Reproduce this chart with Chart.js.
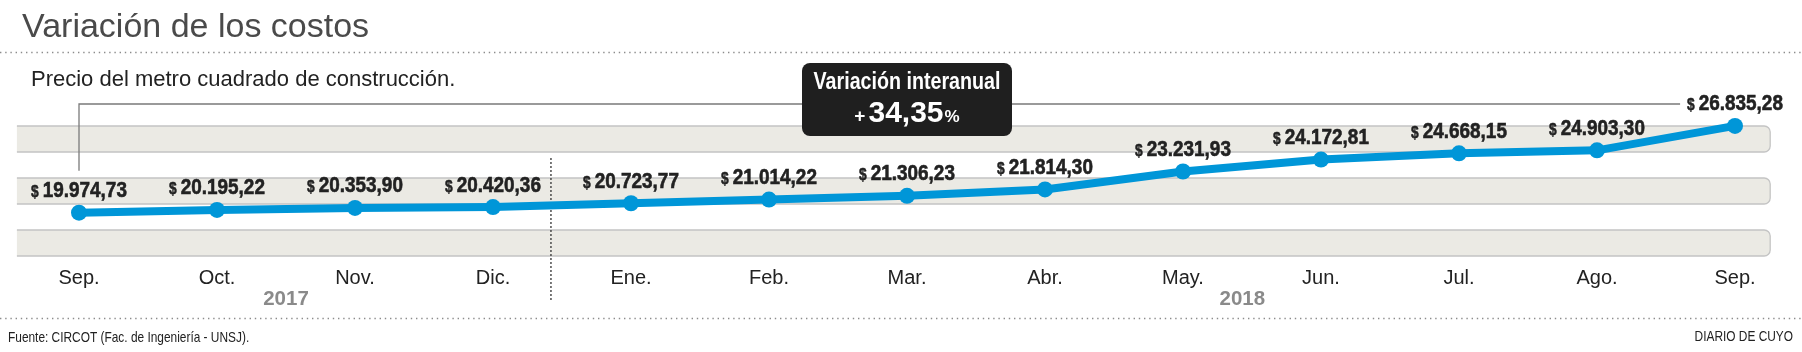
<!DOCTYPE html>
<html>
<head>
<meta charset="utf-8">
<script src="https://cdn.jsdelivr.net/npm/chart.js"></script>
<style>
  html, body { margin: 0; padding: 0; background: #fff; overflow: hidden; }
</style>
</head>
<body>
<canvas id="chart" width="1802" height="352"></canvas>
<script>
// data
const months = ['Sep.', 'Oct.', 'Nov.', 'Dic.', 'Ene.', 'Feb.', 'Mar.', 'Abr.', 'May.', 'Jun.', 'Jul.', 'Ago.', 'Sep.'];
const costs = [19974.73, 20195.22, 20353.90, 20420.36, 20723.77, 21014.22, 21306.23, 21814.30, 23231.93, 24172.81, 24668.15, 24903.30, 26835.28];
const years = ['2017', '2018'];

const BLUE = '#0096d8';
const SANS = '"Liberation Sans", Arial, sans-serif';

// 19974.73 -> "19.974,73"
const fmt = v => {
  const [int, dec] = v.toFixed(2).split('.');
  return int.replace(/\B(?=(\d{3})+(?!\d))/g, '.') + ',' + dec;
};

// no condensed font installed: squeeze the text horizontally
function narrowWidth(ctx, font, text, sx) {
  ctx.font = font;
  return ctx.measureText(text).width * sx;
}
function narrowText(ctx, font, text, x, y, sx, heavy) {
  ctx.save();
  ctx.font = font;
  ctx.textAlign = 'left';
  ctx.translate(x, y);
  ctx.scale(sx, 1);
  ctx.fillText(text, 0, 0);
  if (heavy) {
    ctx.strokeStyle = ctx.fillStyle;
    ctx.lineWidth = heavy;
    ctx.strokeText(text, 0, 0);
  }
  ctx.restore();
}

function dotted(ctx, y, w) {
  ctx.save();
  ctx.strokeStyle = '#8c8c8c';
  ctx.lineWidth = 1.4;
  ctx.setLineDash([1.4, 3.8]);
  ctx.beginPath();
  ctx.moveTo(0, y);
  ctx.lineTo(w, y);
  ctx.stroke();
  ctx.restore();
}

const F_DOLLAR = 'bold 16px ' + SANS;
const F_VALUE = 'bold 22px ' + SANS;
const SQ = 0.86;

// "$" small + number big, centred on cx; returns left edge
function valueLabel(ctx, v, cx, base, draw) {
  const wS = narrowWidth(ctx, F_DOLLAR, '$', SQ);
  const wN = narrowWidth(ctx, F_VALUE, fmt(v), SQ);
  const x0 = cx - (wS + 4 + wN) / 2;
  if (draw) {
    ctx.fillStyle = '#222';
    ctx.textBaseline = 'alphabetic';
    narrowText(ctx, F_DOLLAR, '$', x0, base, SQ, 0.5);
    narrowText(ctx, F_VALUE, fmt(v), x0 + wS + 4, base, SQ, 0.6);
  }
  return x0;
}

const decor = {
  id: 'decor',
  beforeDatasetsDraw(chart) {
    const { ctx, chartArea: a, scales: { x } } = chart;
    const W = chart.width;
    const last = months.length - 1;
    const step = x.getPixelForValue(1) - x.getPixelForValue(0);
    const pts = chart.getDatasetMeta(0).data;

    ctx.save();
    // title, subtitle, footer
    ctx.textBaseline = 'alphabetic';
    ctx.textAlign = 'left';
    ctx.fillStyle = '#4a4a4a';
    ctx.font = '34px ' + SANS;
    ctx.fillText('Variación de los costos', 22, 36.5);
    ctx.fillStyle = '#222';
    ctx.font = '22px ' + SANS;
    ctx.fillText('Precio del metro cuadrado de construcción.', 31, 86);
    dotted(ctx, 52.5, W);
    dotted(ctx, 318.5, W);
    const fFoot = '14.5px ' + SANS;
    narrowText(ctx, fFoot, 'Fuente: CIRCOT (Fac. de Ingeniería - UNSJ).', 8, 341.5, 0.82);
    const wD = narrowWidth(ctx, fFoot, 'DIARIO DE CUYO', 0.82);
    narrowText(ctx, fFoot, 'DIARIO DE CUYO', 1793 - wD, 341, 0.82);

    // bands
    const left = x.getPixelForValue(0) - 0.45 * step;
    const right = x.getPixelForValue(last) + 0.255 * step;
    const rowH = (a.bottom - a.top) / 5;
    const r = 6;
    for (let i = 0; i < 5; i += 2) {
      const top = a.top + i * rowH, bot = top + rowH;
      ctx.beginPath();
      ctx.moveTo(left, top);
      ctx.lineTo(right - r, top);
      ctx.arcTo(right, top, right, top + r, r);
      ctx.lineTo(right, bot - r);
      ctx.arcTo(right, bot, right - r, bot, r);
      ctx.lineTo(left, bot);
      ctx.fillStyle = '#ebeae4';
      ctx.fill();
      ctx.strokeStyle = '#c4c4c4';
      ctx.lineWidth = 1.3;
      ctx.stroke();
    }

    // bracket from first to last value
    const endX = valueLabel(ctx, costs[last], pts[last].x, 0, false) - 7;
    const bracketY = a.top - 22;
    ctx.strokeStyle = '#7a7a7a';
    ctx.lineWidth = 1.3;
    ctx.beginPath();
    ctx.moveTo(pts[0].x, pts[0].y - 42);
    ctx.lineTo(pts[0].x, bracketY);
    ctx.lineTo(endX, bracketY);
    ctx.stroke();

    // year separator
    const sepX = x.getPixelForValue(3) + 0.42 * step;
    ctx.strokeStyle = '#333';
    ctx.setLineDash([2, 2]);
    ctx.beginPath();
    ctx.moveTo(sepX, 158);
    ctx.lineTo(sepX, 302);
    ctx.stroke();
    ctx.restore();
  },
  afterDraw(chart) {
    const { ctx, scales: { x } } = chart;
    const pts = chart.getDatasetMeta(0).data;
    const last = costs.length - 1;
    ctx.save();

    // value labels
    costs.forEach((v, i) => {
      valueLabel(ctx, v, pts[i].x, pts[i].y - 15.5, true);
    });

    // years
    const yearAt = [1.5, 8.43];
    ctx.fillStyle = '#8a8a8a';
    ctx.font = 'bold 20.5px ' + SANS;
    ctx.textAlign = 'center';
    years.forEach((t, i) => ctx.fillText(t, x.getPixelForValue(yearAt[i]), 305));

    // year-on-year box
    const mid = Math.floor(last / 2);
    const bx = x.getPixelForValue(mid), bw = 210, bh = 73, bt = 63;
    ctx.fillStyle = '#1f1f1f';
    ctx.beginPath();
    ctx.roundRect(bx - bw / 2, bt, bw, bh, 8);
    ctx.fill();
    ctx.fillStyle = '#fff';
    const fHead = 'bold 23px ' + SANS;
    const head = 'Variación interanual';
    const wH = narrowWidth(ctx, fHead, head, 0.855);
    narrowText(ctx, fHead, head, bx - wH / 2, bt + 26, 0.855);

    const pct = ((costs[last] / costs[0] - 1) * 100).toFixed(2).replace('.', ',');
    ctx.textAlign = 'left';
    ctx.font = 'bold 19px ' + SANS;
    const wP = ctx.measureText('+').width;
    ctx.font = 'bold 30px ' + SANS;
    const wN = ctx.measureText(pct).width;
    ctx.font = 'bold 17px ' + SANS;
    const wC = ctx.measureText('%').width;
    let cx = bx - (wP + 3 + wN + 1 + wC) / 2;
    const base = bt + 58.5;
    ctx.font = 'bold 19px ' + SANS;
    ctx.fillText('+', cx, base);
    cx += wP + 3;
    ctx.font = 'bold 30px ' + SANS;
    ctx.fillText(pct, cx, base);
    cx += wN + 1;
    ctx.font = 'bold 17px ' + SANS;
    ctx.fillText('%', cx, base);
    ctx.restore();
  }
};

new Chart(document.getElementById('chart'), {
  type: 'line',
  data: {
    labels: months,
    datasets: [{
      data: costs,
      borderColor: BLUE,
      backgroundColor: BLUE,
      borderWidth: 8,
      borderJoinStyle: 'round',
      borderCapStyle: 'round',
      pointRadius: 8,
      pointHoverRadius: 8,
      pointBorderWidth: 0,
      tension: 0,
      clip: false
    }]
  },
  options: {
    responsive: false,
    animation: false,
    devicePixelRatio: 1,
    events: [],
    layout: { padding: { left: 79, right: 67, top: 126, bottom: 0 } },
    plugins: {
      legend: { display: false },
      tooltip: { enabled: false }
    },
    scales: {
      x: {
        grid: { display: false },
        border: { display: false },
        ticks: {
          color: '#222',
          font: { family: SANS, size: 20 },
          padding: 2,
          maxRotation: 0,
          autoSkip: false
        },
        afterFit(scale) { scale.height = 96; }
      },
      y: { display: false, min: 16550, max: 26830 }
    }
  },
  plugins: [decor]
});
</script>
</body>
</html>
